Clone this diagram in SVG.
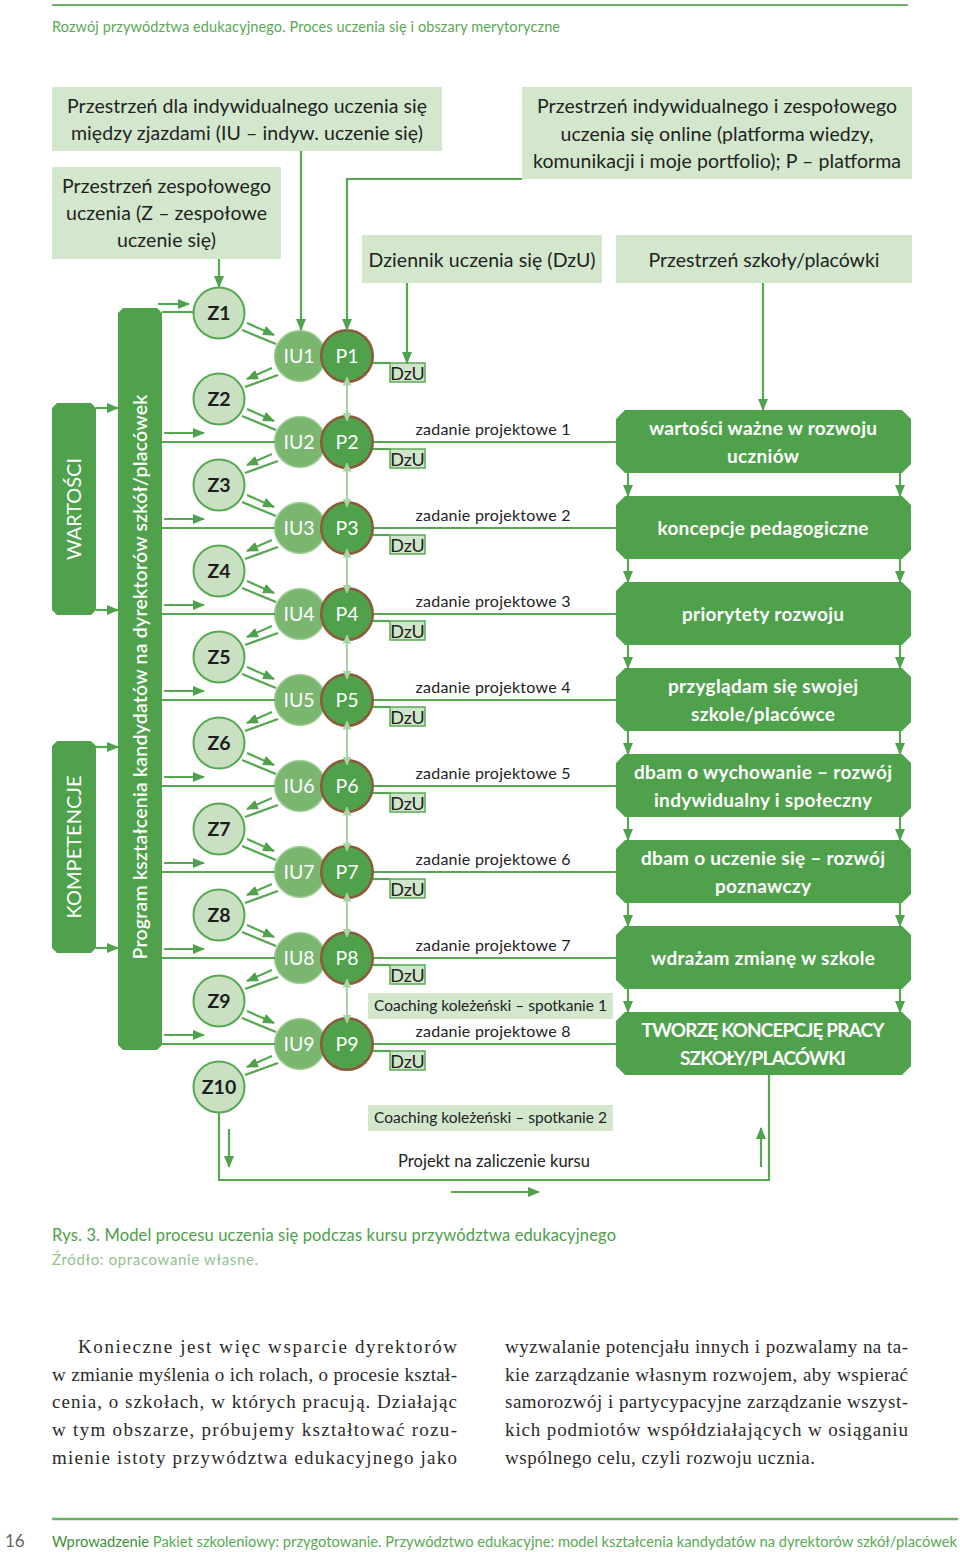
<svg xmlns="http://www.w3.org/2000/svg" width="960" height="1552" viewBox="0 0 960 1552">
<style>
text{font-family:Lato,"Open Sans","Liberation Sans",sans-serif}
.hdr{font-size:14.5px;fill:#5aa856}
.lb{font-size:19.5px;fill:#222;text-anchor:middle}
.lbox{fill:#d3e7cd}
.gbar{fill:#4fa24b}
.vt{fill:#fff;font-size:20px;text-anchor:middle}
.zc{fill:#c9e1c2;stroke:#55a851;stroke-width:2}
.ic{fill:#7ab670;stroke:#a3d09a;stroke-width:1.5}
.pc{fill:#4fa24b;stroke:#8b5a3b;stroke-width:2.5}
.zt{font-size:19.5px;fill:#1d1d1d;font-weight:bold;text-anchor:middle}
.wt{font-size:19.5px;fill:#fff;text-anchor:middle}
.dzb{fill:#d0e6ca;stroke:#5aaa55;stroke-width:1.5}
.dz{font-size:18px;fill:#222;text-anchor:middle}
.zad{font-size:16px;fill:#222;text-anchor:middle}
.rb{fill:#fff;font-weight:bold;font-size:19px;text-anchor:middle}
.co{font-size:15.5px;fill:#222;text-anchor:middle}
.ln{stroke:#55a851;stroke-width:2.2;fill:none}
.ar{stroke:#55a851;stroke-width:2.2;fill:none;marker-end:url(#ah)}
.pl{stroke:#8fc788;stroke-width:1.6;fill:none;marker-start:url(#ahl);marker-end:url(#ahl)}
.cap{font-size:16.5px;fill:#4d9e4a}
.src{font-size:15px;fill:#93c18d}
.body{font-family:"Liberation Serif","DejaVu Serif",serif;font-size:19px;fill:#2a2a2a}
</style>
<defs>
<marker id="ah" markerUnits="userSpaceOnUse" markerWidth="12" markerHeight="10" refX="11" refY="5" orient="auto" viewBox="0 0 12 10"><path d="M0,0 L12,5 L0,10 z" fill="#4fa24b"/></marker>
<marker id="ahl" markerUnits="userSpaceOnUse" markerWidth="9" markerHeight="9" refX="8.5" refY="4.5" orient="auto-start-reverse" viewBox="0 0 9 9"><path d="M0,0 L9,4.5 L0,9 z" fill="#a7d59f"/></marker>
</defs>

<!-- page header -->
<line x1="52" y1="5" x2="908" y2="5" stroke="#6ab165" stroke-width="2"/>
<text class="hdr" x="52" y="32" textLength="508">Rozwój przywództwa edukacyjnego. Proces uczenia się i obszary merytoryczne</text>

<!-- top spaces -->
<g id="box-iu">
<rect class="lbox" x="52" y="87" width="390" height="64"/>
<text class="lb" x="247" y="113" textLength="360">Przestrzeń dla indywidualnego uczenia się</text>
<text class="lb" x="247" y="140" textLength="352">między zjazdami (IU – indyw. uczenie się)</text>
</g>
<g id="box-z">
<rect class="lbox" x="52" y="167" width="229" height="92"/>
<text class="lb" x="166.5" y="193" textLength="209">Przestrzeń zespołowego</text>
<text class="lb" x="166.5" y="220" textLength="201">uczenia (Z – zespołowe</text>
<text class="lb" x="166.5" y="247" textLength="99">uczenie się)</text>
</g>
<g id="box-online">
<rect class="lbox" x="522" y="87" width="390" height="92"/>
<text class="lb" x="717" y="113" textLength="360">Przestrzeń indywidualnego i zespołowego</text>
<text class="lb" x="717" y="141" textLength="313">uczenia się online (platforma wiedzy,</text>
<text class="lb" x="717" y="168" textLength="368">komunikacji i moje portfolio); P – platforma</text>
</g>
<g id="box-dzu">
<rect class="lbox" x="362" y="235" width="240" height="48"/>
<text class="lb" x="482" y="267" textLength="227">Dziennik uczenia się (DzU)</text>
</g>
<g id="box-szkola">
<rect class="lbox" x="616" y="235" width="296" height="48"/>
<text class="lb" x="764" y="267" textLength="231">Przestrzeń szkoły/placówki</text>
</g>

<!-- left bars -->
<g id="bar-wartosci">
<polygon class="gbar" points="57,403 91,403 96,408 96,610 91,615 57,615 52,610 52,408"/>
<text class="vt" transform="translate(74,509) rotate(-90)" y="7" textLength="102">WARTOŚCI</text>
</g>
<g id="bar-kompetencje">
<polygon class="gbar" points="57,741 91,741 96,746 96,948 91,953 57,953 52,948 52,746"/>
<text class="vt" transform="translate(74,847) rotate(-90)" y="7" textLength="143">KOMPETENCJE</text>
</g>
<g id="bar-program">
<polygon class="gbar" points="123,308 157,308 162,313 162,1045 157,1050 123,1050 118,1045 118,313"/>
<text class="vt" style="font-weight:600;font-size:19.5px" transform="translate(140,677) rotate(-90)" y="7" textLength="565">Program kształcenia kandydatów na dyrektorów szkół/placówek</text>
</g>

<!-- Z circles -->
<g id="z1"><circle class="zc" cx="219" cy="313" r="25.5"/><text class="zt" x="219" y="320">Z1</text></g>
<g id="z2"><circle class="zc" cx="219" cy="399" r="25.5"/><text class="zt" x="219" y="406">Z2</text></g>
<g id="z3"><circle class="zc" cx="219" cy="485" r="25.5"/><text class="zt" x="219" y="492">Z3</text></g>
<g id="z4"><circle class="zc" cx="219" cy="571" r="25.5"/><text class="zt" x="219" y="578">Z4</text></g>
<g id="z5"><circle class="zc" cx="219" cy="657" r="25.5"/><text class="zt" x="219" y="664">Z5</text></g>
<g id="z6"><circle class="zc" cx="219" cy="743" r="25.5"/><text class="zt" x="219" y="750">Z6</text></g>
<g id="z7"><circle class="zc" cx="219" cy="829" r="25.5"/><text class="zt" x="219" y="836">Z7</text></g>
<g id="z8"><circle class="zc" cx="219" cy="915" r="25.5"/><text class="zt" x="219" y="922">Z8</text></g>
<g id="z9"><circle class="zc" cx="219" cy="1001" r="25.5"/><text class="zt" x="219" y="1008">Z9</text></g>
<g id="z10"><circle class="zc" cx="219" cy="1087" r="25.5"/><text class="zt" x="219" y="1094">Z10</text></g>

<!-- IU circles -->
<g id="iu1"><circle class="ic" cx="300" cy="356" r="25.5"/><text class="wt" x="299" y="363">IU1</text></g>
<g id="iu2"><circle class="ic" cx="300" cy="442" r="25.5"/><text class="wt" x="299" y="449">IU2</text></g>
<g id="iu3"><circle class="ic" cx="300" cy="528" r="25.5"/><text class="wt" x="299" y="535">IU3</text></g>
<g id="iu4"><circle class="ic" cx="300" cy="614" r="25.5"/><text class="wt" x="299" y="621">IU4</text></g>
<g id="iu5"><circle class="ic" cx="300" cy="700" r="25.5"/><text class="wt" x="299" y="707">IU5</text></g>
<g id="iu6"><circle class="ic" cx="300" cy="786" r="25.5"/><text class="wt" x="299" y="793">IU6</text></g>
<g id="iu7"><circle class="ic" cx="300" cy="872" r="25.5"/><text class="wt" x="299" y="879">IU7</text></g>
<g id="iu8"><circle class="ic" cx="300" cy="958" r="25.5"/><text class="wt" x="299" y="965">IU8</text></g>
<g id="iu9"><circle class="ic" cx="300" cy="1044" r="25.5"/><text class="wt" x="299" y="1051">IU9</text></g>

<!-- P circles -->
<g id="p1"><circle class="pc" cx="347" cy="356" r="25.8"/><text class="wt" x="347" y="363">P1</text></g>
<g id="p2"><circle class="pc" cx="347" cy="442" r="25.8"/><text class="wt" x="347" y="449">P2</text></g>
<g id="p3"><circle class="pc" cx="347" cy="528" r="25.8"/><text class="wt" x="347" y="535">P3</text></g>
<g id="p4"><circle class="pc" cx="347" cy="614" r="25.8"/><text class="wt" x="347" y="621">P4</text></g>
<g id="p5"><circle class="pc" cx="347" cy="700" r="25.8"/><text class="wt" x="347" y="707">P5</text></g>
<g id="p6"><circle class="pc" cx="347" cy="786" r="25.8"/><text class="wt" x="347" y="793">P6</text></g>
<g id="p7"><circle class="pc" cx="347" cy="872" r="25.8"/><text class="wt" x="347" y="879">P7</text></g>
<g id="p8"><circle class="pc" cx="347" cy="958" r="25.8"/><text class="wt" x="347" y="965">P8</text></g>
<g id="p9"><circle class="pc" cx="347" cy="1044" r="25.8"/><text class="wt" x="347" y="1051">P9</text></g>

<!-- DzU boxes -->
<g id="dzu1"><rect class="dzb" x="390" y="363" width="35" height="19"/><text class="dz" x="407.5" y="380">DzU</text></g>
<g id="dzu2"><rect class="dzb" x="390" y="449" width="35" height="19"/><text class="dz" x="407.5" y="466">DzU</text></g>
<g id="dzu3"><rect class="dzb" x="390" y="535" width="35" height="19"/><text class="dz" x="407.5" y="552">DzU</text></g>
<g id="dzu4"><rect class="dzb" x="390" y="621" width="35" height="19"/><text class="dz" x="407.5" y="638">DzU</text></g>
<g id="dzu5"><rect class="dzb" x="390" y="707" width="35" height="19"/><text class="dz" x="407.5" y="724">DzU</text></g>
<g id="dzu6"><rect class="dzb" x="390" y="793" width="35" height="19"/><text class="dz" x="407.5" y="810">DzU</text></g>
<g id="dzu7"><rect class="dzb" x="390" y="879" width="35" height="19"/><text class="dz" x="407.5" y="896">DzU</text></g>
<g id="dzu8"><rect class="dzb" x="390" y="965" width="35" height="19"/><text class="dz" x="407.5" y="982">DzU</text></g>
<g id="dzu9"><rect class="dzb" x="390" y="1051" width="35" height="19"/><text class="dz" x="407.5" y="1068">DzU</text></g>

<!-- coaching and project -->
<g id="coaching1"><rect class="lbox" x="368" y="993" width="245" height="26"/><text class="co" x="490.5" y="1011" textLength="233">Coaching koleżeński – spotkanie 1</text></g>
<g id="coaching2"><rect class="lbox" x="368" y="1105" width="245" height="26"/><text class="co" x="490.5" y="1123" textLength="233">Coaching koleżeński – spotkanie 2</text></g>
<g id="projekt"><text class="zad" style="font-size:16.5px" x="494" y="1167" textLength="192">Projekt na zaliczenie kursu</text></g>

<!-- right boxes -->
<g id="r1"><polygon class="gbar" points="625,410 902,410 911,419 911,464 902,473 625,473 616,464 616,419"/>
<text class="rb" x="763" y="435" textLength="228">wartości ważne w rozwoju</text><text class="rb" x="763" y="463" textLength="72">uczniów</text></g>
<g id="r2"><polygon class="gbar" points="625,496 902,496 911,505 911,550 902,559 625,559 616,550 616,505"/>
<text class="rb" x="763" y="535" textLength="211">koncepcje pedagogiczne</text></g>
<g id="r3"><polygon class="gbar" points="625,582 902,582 911,591 911,636 902,645 625,645 616,636 616,591"/>
<text class="rb" x="763" y="621" textLength="162">priorytety rozwoju</text></g>
<g id="r4"><polygon class="gbar" points="625,668 902,668 911,677 911,722 902,731 625,731 616,722 616,677"/>
<text class="rb" x="763" y="693" textLength="190">przyglądam się swojej</text><text class="rb" x="763" y="721" textLength="144">szkole/placówce</text></g>
<g id="r5"><polygon class="gbar" points="625,754 902,754 911,763 911,808 902,817 625,817 616,808 616,763"/>
<text class="rb" x="763" y="779" textLength="258">dbam o wychowanie – rozwój</text><text class="rb" x="763" y="807" textLength="218">indywidualny i społeczny</text></g>
<g id="r6"><polygon class="gbar" points="625,840 902,840 911,849 911,894 902,903 625,903 616,894 616,849"/>
<text class="rb" x="763" y="865" textLength="244">dbam o uczenie się – rozwój</text><text class="rb" x="763" y="893" textLength="96">poznawczy</text></g>
<g id="r7"><polygon class="gbar" points="625,926 902,926 911,935 911,980 902,989 625,989 616,980 616,935"/>
<text class="rb" x="763" y="965" textLength="224">wdrażam zmianę w szkole</text></g>
<g id="r8"><polygon class="gbar" points="625,1012 902,1012 911,1021 911,1066 902,1075 625,1075 616,1066 616,1021"/>
<text class="rb" x="763" y="1037" textLength="243">TWORZĘ KONCEPCJĘ PRACY</text><text class="rb" x="763" y="1065" textLength="166">SZKOŁY/PLACÓWKI</text></g>

<!-- connectors -->
<g id="connectors">
<line class="ar" x1="219" y1="259" x2="219" y2="287"/>
<line class="ar" x1="301" y1="151" x2="301" y2="330"/>
<polyline class="ar" points="522,179 347,179 347,330"/>
<line class="ar" x1="407" y1="283" x2="407" y2="363"/>
<line class="ar" x1="763" y1="283" x2="763" y2="410"/>

<line class="ar" x1="96" y1="408" x2="118" y2="408"/>
<line class="ar" x1="96" y1="610" x2="118" y2="610"/>
<line class="ar" x1="96" y1="747" x2="118" y2="747"/>
<line class="ar" x1="96" y1="948" x2="118" y2="948"/>

<line class="ln" x1="162" y1="312" x2="193" y2="312"/>
<line class="ar" x1="158" y1="304" x2="189" y2="304"/>

<line class="ln" x1="162" y1="442" x2="275" y2="442"/><line class="ar" x1="164" y1="433" x2="204" y2="433"/>
<line class="ln" x1="162" y1="528" x2="275" y2="528"/><line class="ar" x1="164" y1="519" x2="204" y2="519"/>
<line class="ln" x1="162" y1="614" x2="275" y2="614"/><line class="ar" x1="164" y1="605" x2="204" y2="605"/>
<line class="ln" x1="162" y1="700" x2="275" y2="700"/><line class="ar" x1="164" y1="691" x2="204" y2="691"/>
<line class="ln" x1="162" y1="786" x2="275" y2="786"/><line class="ar" x1="164" y1="777" x2="204" y2="777"/>
<line class="ln" x1="162" y1="872" x2="275" y2="872"/><line class="ar" x1="164" y1="863" x2="204" y2="863"/>
<line class="ln" x1="162" y1="958" x2="275" y2="958"/><line class="ar" x1="164" y1="949" x2="204" y2="949"/>
<line class="ln" x1="162" y1="1044" x2="275" y2="1044"/><line class="ar" x1="164" y1="1035" x2="204" y2="1035"/>

<line class="ln" x1="242" y1="330" x2="276" y2="344"/><line class="ar" x1="247" y1="323" x2="274" y2="335"/>
<line class="ln" x1="242" y1="416" x2="276" y2="430"/><line class="ar" x1="247" y1="409" x2="274" y2="421"/>
<line class="ln" x1="242" y1="502" x2="276" y2="516"/><line class="ar" x1="247" y1="495" x2="274" y2="507"/>
<line class="ln" x1="242" y1="588" x2="276" y2="602"/><line class="ar" x1="247" y1="581" x2="274" y2="593"/>
<line class="ln" x1="242" y1="674" x2="276" y2="688"/><line class="ar" x1="247" y1="667" x2="274" y2="679"/>
<line class="ln" x1="242" y1="760" x2="276" y2="774"/><line class="ar" x1="247" y1="753" x2="274" y2="765"/>
<line class="ln" x1="242" y1="846" x2="276" y2="860"/><line class="ar" x1="247" y1="839" x2="274" y2="851"/>
<line class="ln" x1="242" y1="932" x2="276" y2="946"/><line class="ar" x1="247" y1="925" x2="274" y2="937"/>
<line class="ln" x1="242" y1="1018" x2="276" y2="1032"/><line class="ar" x1="247" y1="1011" x2="274" y2="1023"/>

<line class="ln" x1="278" y1="375" x2="245" y2="387"/><line class="ar" x1="272" y1="368" x2="247" y2="379"/>
<line class="ln" x1="278" y1="461" x2="245" y2="473"/><line class="ar" x1="272" y1="454" x2="247" y2="465"/>
<line class="ln" x1="278" y1="547" x2="245" y2="559"/><line class="ar" x1="272" y1="540" x2="247" y2="551"/>
<line class="ln" x1="278" y1="633" x2="245" y2="645"/><line class="ar" x1="272" y1="626" x2="247" y2="637"/>
<line class="ln" x1="278" y1="719" x2="245" y2="731"/><line class="ar" x1="272" y1="712" x2="247" y2="723"/>
<line class="ln" x1="278" y1="805" x2="245" y2="817"/><line class="ar" x1="272" y1="798" x2="247" y2="809"/>
<line class="ln" x1="278" y1="891" x2="245" y2="903"/><line class="ar" x1="272" y1="884" x2="247" y2="895"/>
<line class="ln" x1="278" y1="977" x2="245" y2="989"/><line class="ar" x1="272" y1="970" x2="247" y2="981"/>
<line class="ln" x1="278" y1="1063" x2="245" y2="1075"/><line class="ar" x1="272" y1="1056" x2="247" y2="1067"/>

<line class="pl" x1="347" y1="377" x2="347" y2="421"/>
<line class="pl" x1="347" y1="463" x2="347" y2="507"/>
<line class="pl" x1="347" y1="549" x2="347" y2="593"/>
<line class="pl" x1="347" y1="635" x2="347" y2="679"/>
<line class="pl" x1="347" y1="721" x2="347" y2="765"/>
<line class="pl" x1="347" y1="807" x2="347" y2="851"/>
<line class="pl" x1="347" y1="893" x2="347" y2="937"/>
<line class="pl" x1="347" y1="979" x2="347" y2="1023"/>

<line class="ln" x1="373" y1="363" x2="390" y2="363"/>
<line class="ln" x1="373" y1="449" x2="390" y2="449"/>
<line class="ln" x1="373" y1="535" x2="390" y2="535"/>
<line class="ln" x1="373" y1="621" x2="390" y2="621"/>
<line class="ln" x1="373" y1="707" x2="390" y2="707"/>
<line class="ln" x1="373" y1="793" x2="390" y2="793"/>
<line class="ln" x1="373" y1="879" x2="390" y2="879"/>
<line class="ln" x1="373" y1="965" x2="390" y2="965"/>
<line class="ln" x1="373" y1="1051" x2="390" y2="1051"/>

<line class="ln" x1="374" y1="442" x2="616" y2="442"/>
<line class="ln" x1="374" y1="528" x2="616" y2="528"/>
<line class="ln" x1="374" y1="614" x2="616" y2="614"/>
<line class="ln" x1="374" y1="700" x2="616" y2="700"/>
<line class="ln" x1="374" y1="786" x2="616" y2="786"/>
<line class="ln" x1="374" y1="872" x2="616" y2="872"/>
<line class="ln" x1="374" y1="958" x2="616" y2="958"/>
<line class="ln" x1="374" y1="1044" x2="616" y2="1044"/>

<line class="ar" x1="628" y1="473" x2="628" y2="496"/><line class="ar" x1="900" y1="473" x2="900" y2="496"/>
<line class="ar" x1="628" y1="559" x2="628" y2="582"/><line class="ar" x1="900" y1="559" x2="900" y2="582"/>
<line class="ar" x1="628" y1="645" x2="628" y2="668"/><line class="ar" x1="900" y1="645" x2="900" y2="668"/>
<line class="ar" x1="628" y1="731" x2="628" y2="754"/><line class="ar" x1="900" y1="731" x2="900" y2="754"/>
<line class="ar" x1="628" y1="817" x2="628" y2="840"/><line class="ar" x1="900" y1="817" x2="900" y2="840"/>
<line class="ar" x1="628" y1="903" x2="628" y2="926"/><line class="ar" x1="900" y1="903" x2="900" y2="926"/>
<line class="ar" x1="628" y1="989" x2="628" y2="1012"/><line class="ar" x1="900" y1="989" x2="900" y2="1012"/>

<polyline class="ln" points="219,1113 219,1180 769,1180 769,1075"/>
<line class="ar" x1="229" y1="1129" x2="229" y2="1167"/>
<line class="ar" x1="451" y1="1192" x2="539" y2="1192"/>
<line class="ar" x1="761" y1="1167" x2="761" y2="1128"/>
</g>

<!-- task labels -->
<g id="tasks">
<text class="zad" x="493" y="435" textLength="155">zadanie projektowe 1</text>
<text class="zad" x="493" y="521" textLength="155">zadanie projektowe 2</text>
<text class="zad" x="493" y="607" textLength="155">zadanie projektowe 3</text>
<text class="zad" x="493" y="693" textLength="155">zadanie projektowe 4</text>
<text class="zad" x="493" y="779" textLength="155">zadanie projektowe 5</text>
<text class="zad" x="493" y="865" textLength="155">zadanie projektowe 6</text>
<text class="zad" x="493" y="951" textLength="155">zadanie projektowe 7</text>
<text class="zad" x="493" y="1037" textLength="155">zadanie projektowe 8</text>
</g>

<!-- caption -->
<text class="cap" x="52" y="1241" textLength="564">Rys. 3. Model procesu uczenia się podczas kursu przywództwa edukacyjnego</text>
<text class="src" x="52" y="1265" textLength="206">Źródło: opracowanie własne.</text>

<!-- body text -->
<g id="body">
<text class="body" x="78" y="1353" textLength="379">Konieczne jest więc wsparcie dyrektorów</text>
<text class="body" x="52" y="1381" textLength="405">w zmianie myślenia o ich rolach, o procesie kształ-</text>
<text class="body" x="52" y="1408" textLength="405">cenia, o szkołach, w których pracują. Działając</text>
<text class="body" x="52" y="1436" textLength="405">w tym obszarze, próbujemy kształtować rozu-</text>
<text class="body" x="52" y="1464" textLength="405">mienie istoty przywództwa edukacyjnego jako</text>
<text class="body" x="505" y="1353" textLength="403">wyzwalanie potencjału innych i pozwalamy na ta-</text>
<text class="body" x="505" y="1381" textLength="403">kie zarządzanie własnym rozwojem, aby wspierać</text>
<text class="body" x="505" y="1408" textLength="403">samorozwój i partycypacyjne zarządzanie wszyst-</text>
<text class="body" x="505" y="1436" textLength="403">kich podmiotów współdziałających w osiąganiu</text>
<text class="body" x="505" y="1464" textLength="310">wspólnego celu, czyli rozwoju ucznia.</text>
</g>

<!-- footer -->
<line x1="52" y1="1519" x2="958" y2="1519" stroke="#6ab165" stroke-width="2.5"/>
<text x="5" y="1547" style="font-size:17px;fill:#666">16</text>
<text x="52" y="1547" style="font-size:14.5px;fill:#5aa856" textLength="905" lengthAdjust="spacingAndGlyphs"><tspan style="fill:#3e8e3b">Wprowadzenie</tspan> Pakiet szkoleniowy: przygotowanie. Przywództwo edukacyjne: model kształcenia kandydatów na dyrektorów szkół/placówek</text>
</svg>
